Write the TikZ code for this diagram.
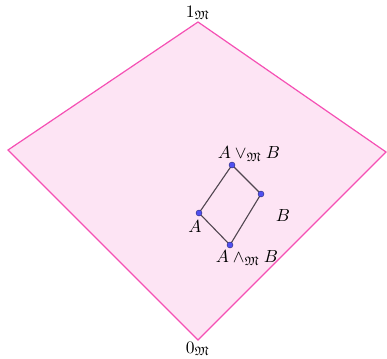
\documentclass[tikz,border=0pt]{standalone}
\usepackage{amssymb}
\definecolor{regfill}{RGB}{253,228,244}
\definecolor{regedge}{RGB}{245,80,180}
\definecolor{ptfill}{RGB}{80,80,240}
\definecolor{segcol}{RGB}{80,70,80}
\begin{document}
\begin{tikzpicture}[x=1pt,y=-1pt,
  lbl/.style={inner sep=1pt},
  pt/.style={circle, fill=ptfill, draw=ptfill!50!black, line width=0.4pt, inner sep=0pt, minimum size=6pt},
  seg/.style={draw=segcol, line width=1.1pt}]
\useasboundingbox (0,0) rectangle (387,358);
\coordinate (top) at (198,22);
\coordinate (left) at (8,150);
\coordinate (right) at (386,152);
\coordinate (bot) at (198,340);
\draw[regedge, fill=regfill, line width=1.2pt] (top) -- (right) -- (bot) -- (left) -- cycle;
\coordinate (J) at (232,165);
\coordinate (Bp) at (261,194);
\coordinate (Ap) at (199,213);
\coordinate (M) at (230,245);
\draw[seg] (J) -- (Bp) -- (M) -- (Ap) -- cycle;
\node[pt] (nJ) at (J) {};
\node[pt] (nB) at (Bp) {};
\node[pt] (nA) at (Ap) {};
\node[pt] (nM) at (M) {};
\node[lbl] (l1) at (198,13) {\scalebox{1.75}{$1_{\mathfrak M}$}};
\node[lbl] (l0) at (198,349) {\scalebox{1.75}{$0_{\mathfrak M}$}};
\node[lbl] (lJ) at (249,154) {\scalebox{1.75}{$A \vee_{\mathfrak M} B$}};
\node[lbl] (lM) at (247,258) {\scalebox{1.75}{$A \wedge_{\mathfrak M} B$}};
\node[lbl] (lA) at (195,227) {\scalebox{1.75}{$A$}};
\node[lbl] (lB) at (283,216) {\scalebox{1.75}{$B$}};
\end{tikzpicture}
\end{document}
